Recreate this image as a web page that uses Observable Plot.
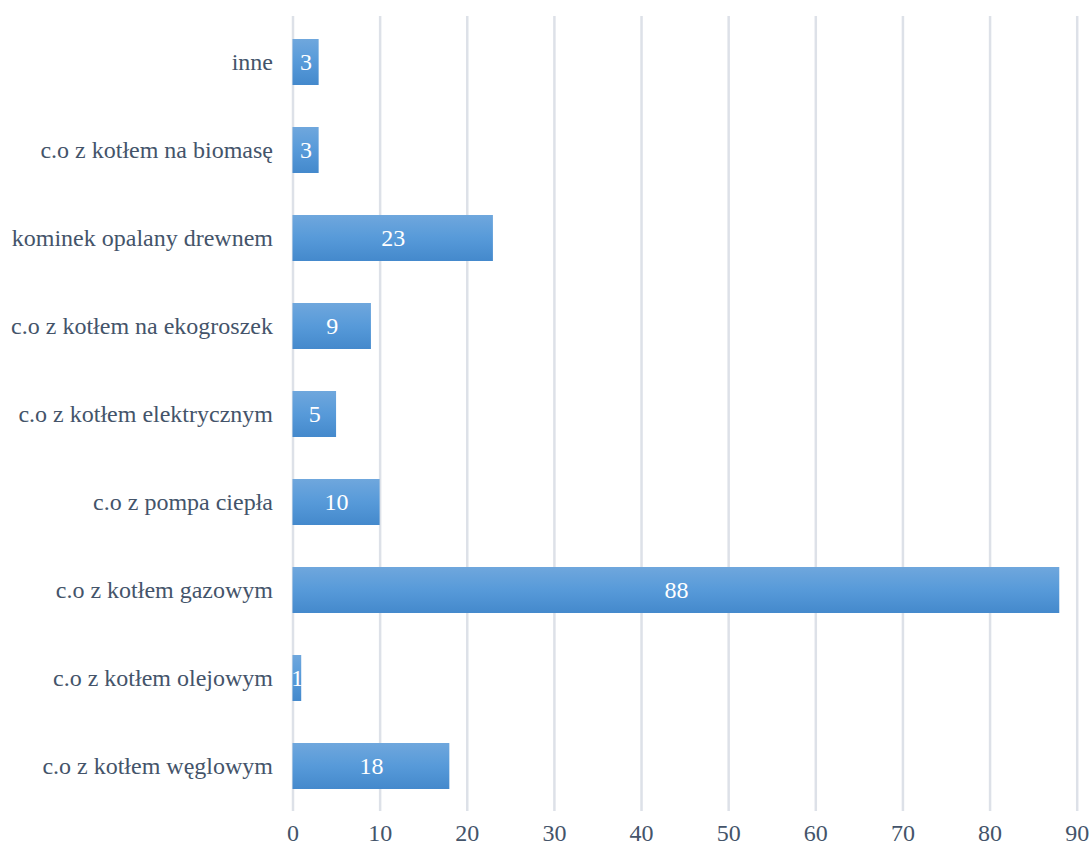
<!DOCTYPE html>
<html>
<head>
<meta charset="utf-8">
<script src="https://cdn.jsdelivr.net/npm/d3@7"></script>
<script src="https://cdn.jsdelivr.net/npm/@observablehq/plot@0.6"></script>
<style>
  html, body { margin: 0; padding: 0; background: #fff; }
</style>
</head>
<body>
<div id="chart"></div>
<script>
const categories = [
  "inne",
  "c.o z kotłem na biomasę",
  "kominek opalany drewnem",
  "c.o z kotłem na ekogroszek",
  "c.o z kotłem elektrycznym",
  "c.o z pompa ciepła",
  "c.o z kotłem gazowym",
  "c.o z kotłem olejowym",
  "c.o z kotłem węglowym"
];
const values = [3, 3, 23, 9, 5, 10, 88, 1, 18];
const xTicks = [0, 10, 20, 30, 40, 50, 60, 70, 80, 90];

const data = categories.map((c, i) => ({category: c, value: values[i]}));

const serif = "Liberation Serif";

const defs = () => {
  const d = d3.create("svg:defs");
  const g = d.append("linearGradient")
    .attr("id", "barGrad")
    .attr("x1", 0).attr("y1", 0).attr("x2", 0).attr("y2", 1);
  g.append("stop").attr("offset", "0%").attr("stop-color", "#6fa7dd");
  g.append("stop").attr("offset", "50%").attr("stop-color", "#579ad9");
  g.append("stop").attr("offset", "100%").attr("stop-color", "#4489cc");
  return d.node();
};

const chart = Plot.plot({
  width: 1092,
  height: 848,
  marginLeft: 292.5,
  marginRight: 15.3,
  marginTop: 16,
  marginBottom: 37,
  style: {
    fontFamily: serif,
    fontSize: "24px",
    color: "#44546a",
    background: "#fff"
  },
  x: {domain: [0, 90], ticks: xTicks, label: null},
  y: {domain: categories, paddingInner: 0.48, paddingOuter: 0.24, label: null},
  marks: [
    defs,
    Plot.gridX(xTicks, {stroke: "#dde1e8", strokeOpacity: 1, strokeWidth: 2.5}),
    Plot.barX(data, {x: "value", y: "category", fill: "url(#barGrad)"}),
    Plot.text(data, {
      x: d => d.value / 2,
      y: "category",
      text: d => String(d.value),
      fill: "#fff",
      fontSize: 24,
      fontFamily: serif
    }),
    Plot.axisX(xTicks, {tickSize: 0, tickPadding: 12, fontSize: 24, fontFamily: serif, fill: "#44546a", label: null}),
    Plot.axisY({tickSize: 0, tickPadding: 20, fontSize: 24, fontFamily: serif, fill: "#44546a", label: null})
  ]
});
document.getElementById("chart").appendChild(chart);
</script>
</body>
</html>
